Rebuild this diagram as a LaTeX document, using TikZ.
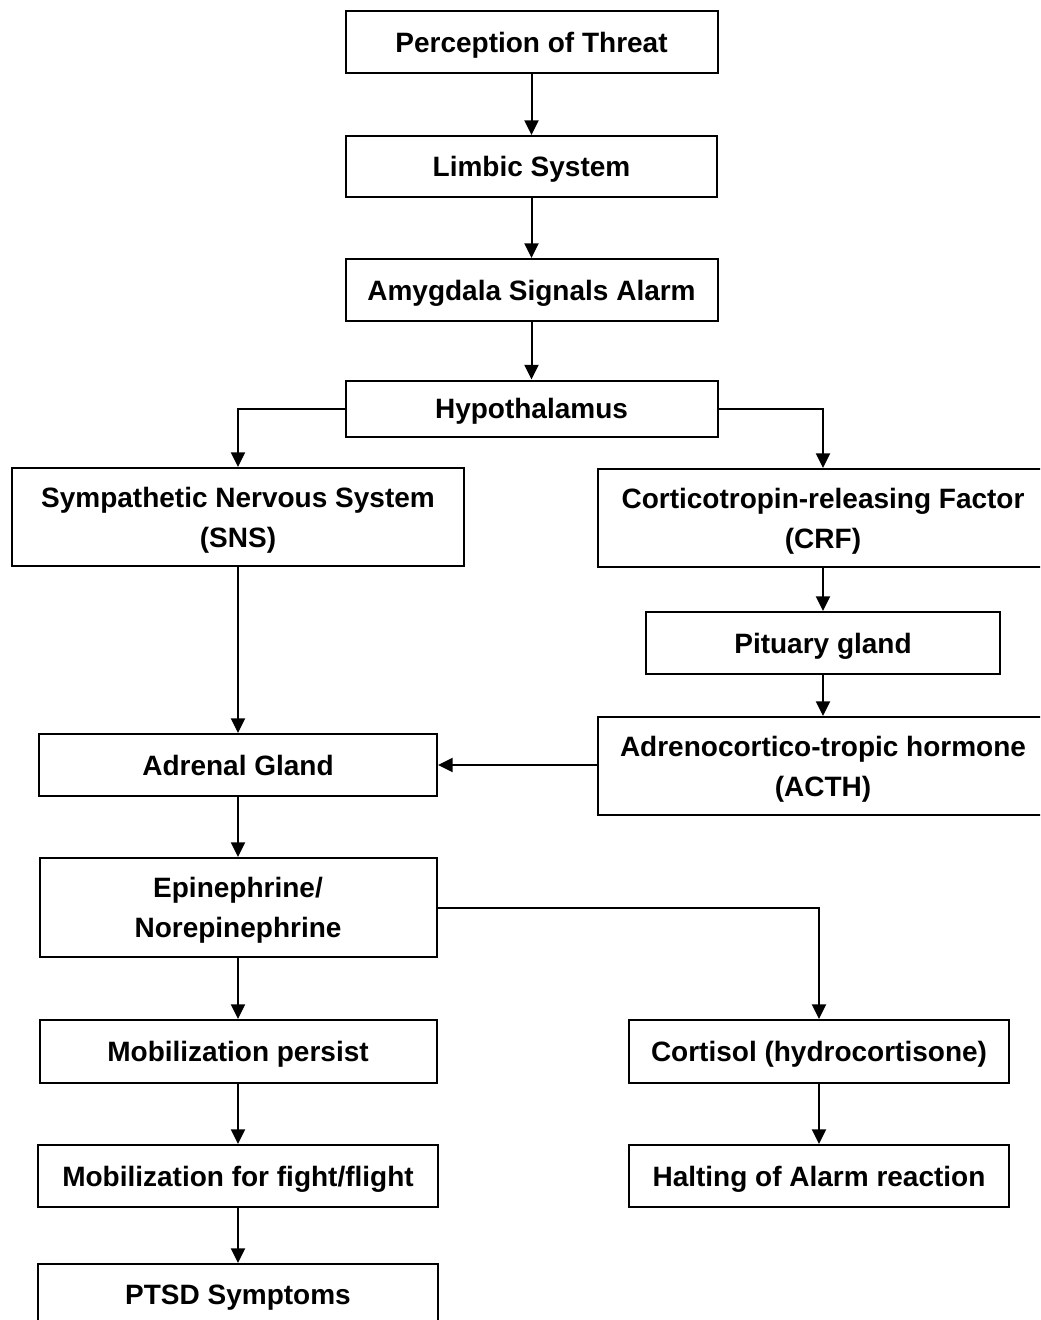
\documentclass[tikz,border=0pt]{standalone}
\usepackage{fontspec}
\setmainfont{Liberation Sans}
\usetikzlibrary{arrows.meta}
\begin{document}
\begin{tikzpicture}[x=0.75pt,y=-0.75pt,
  box/.style={draw=black,line width=1.5pt,rectangle,inner sep=0pt,align=center,
    text depth=0pt,font=\fontsize{21}{30}\selectfont\bfseries,text=black},
  conn/.style={line width=1.5pt,-{Triangle[length=11pt,width=10.5pt]}}]
\useasboundingbox (0,0) rectangle (1040,1320);
\clip (0,0) rectangle (1040,1320);
\fill[white] (0,0) rectangle (1040,1320);
\node[box,minimum width=279pt,minimum height=46.5pt] (pt) at (531.5,42) {Perception of Threat};
\node[box,minimum width=278.25pt,minimum height=45.75pt] (lim) at (531.5,166.5) {Limbic System};
\node[box,minimum width=279pt,minimum height=46.5pt] (amy) at (531.5,290) {Amygdala Signals Alarm};
\node[box,minimum width=279pt,minimum height=42pt] (hyp) at (531.5,408.5) {Hypothalamus};
\node[box,minimum width=339pt,minimum height=73.5pt] (sns) at (238,517) {Sympathetic Nervous System\\(SNS)};
\node[box,minimum width=337.5pt,minimum height=73.5pt] (crf) at (823,518) {Corticotropin-releasing Factor\\(CRF)};
\node[box,minimum width=265.5pt,minimum height=46.5pt] (pit) at (823,643) {Pituary gland};
\node[box,minimum width=337.5pt,minimum height=73.5pt] (acth) at (823,766) {Adrenocortico-tropic hormone\\(ACTH)};
\node[box,minimum width=298.5pt,minimum height=46.5pt] (adr) at (238,765) {Adrenal Gland};
\node[box,minimum width=297.75pt,minimum height=74.25pt] (epi) at (238,907.5) {Epinephrine/\\Norepinephrine};
\node[box,minimum width=297.75pt,minimum height=47.25pt] (mob) at (238,1051.5) {Mobilization persist};
\node[box,minimum width=300pt,minimum height=46.5pt] (fig) at (238,1176) {Mobilization for fight/flight};
\node[box,minimum width=300pt,minimum height=46.5pt] (ptsd) at (238,1295) {PTSD Symptoms};
\node[box,minimum width=285pt,minimum height=47.25pt] (cor) at (819,1051.5) {Cortisol (hydrocortisone)};
\node[box,minimum width=285pt,minimum height=46.5pt] (hal) at (819,1176) {Halting of Alarm reaction};
\draw[conn] (pt) -- (lim);
\draw[conn] (lim) -- (amy);
\draw[conn] (amy) -- (hyp);
\draw[conn] (hyp.west) -| (sns.north);
\draw[conn] (hyp.east) -| (crf.north);
\draw[conn] (sns) -- (adr);
\draw[conn] (crf) -- (pit);
\draw[conn] (pit) -- (acth);
\draw[conn] (acth.west |- adr.east) -- (adr.east);
\draw[conn] (adr) -- (epi);
\draw[conn] (epi.east) -| (cor.north);
\draw[conn] (epi) -- (mob);
\draw[conn] (mob) -- (fig);
\draw[conn] (fig) -- (ptsd);
\draw[conn] (cor) -- (hal);
\end{tikzpicture}
\end{document}
